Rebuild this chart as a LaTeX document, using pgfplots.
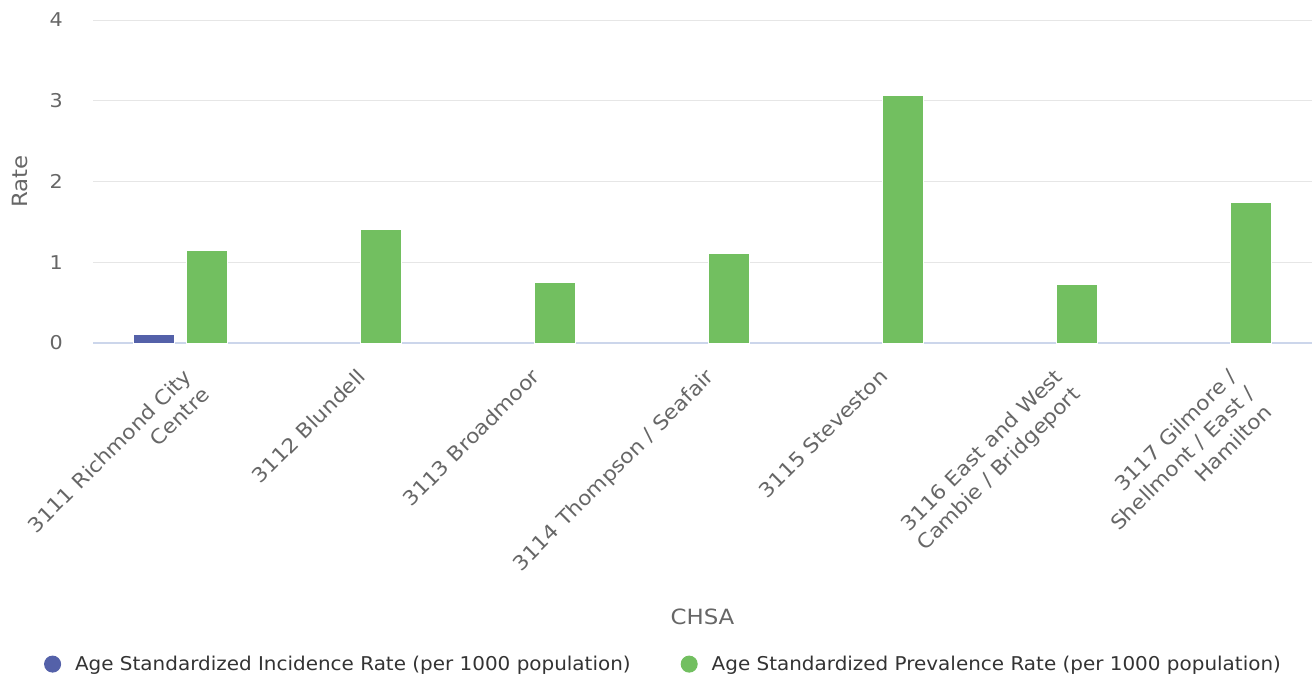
\documentclass[border=0pt]{standalone}
\usepackage{fontspec}
\setmainfont{DejaVu Sans}
\newfontfamily\wfont[FakeStretch=1.09]{DejaVu Sans}
\newfontfamily\lfont[FakeStretch=1.05]{DejaVu Sans}
\usepackage{pgfplots}
\pgfplotsset{compat=1.18}
\definecolor{incc}{HTML}{5461A9}
\definecolor{prevc}{HTML}{72BF60}
\definecolor{gridc}{HTML}{E6E6E6}
\definecolor{axisc}{HTML}{CCD6EB}
\definecolor{labc}{HTML}{666666}
\definecolor{legc}{HTML}{333333}
\begin{document}
\begin{tikzpicture}
\begin{axis}[
  scale only axis, width=1219pt, height=323pt,
  xmin=-0.5, xmax=6.5, ymin=0, ymax=4,
  xtick={0,...,6}, ytick={0,1,2,3,4},
  xticklabels={{3111 Richmond City\\Centre},{3112 Blundell},{3113 Broadmoor},{3114 Thompson / Seafair},{3115 Steveston},{3116 East and West\\Cambie / Bridgeport},{3117 Gilmore /\\Shellmont / East /\\Hamilton}},
  axis x line*=bottom, axis y line*=left,
  x axis line style={color=axisc, line width=1.2pt},
  y axis line style={draw=none},
  major tick length=0pt,
  ymajorgrids, grid style={color=gridc, line width=1pt},
  /pgf/number format/assume math mode=true,
  yticklabel style={color=labc, font=\wfont\fontsize{19}{23}\selectfont, anchor=east, inner sep=0pt, xshift=-30pt},
  xticklabel style={color=labc, font=\wfont\fontsize{20}{25}\selectfont, inner sep=0pt, align=right, anchor=north east, xshift=2pt, yshift=-24pt, rotate=45},
  xlabel={CHSA}, ylabel={Rate},
  every axis x label/.style={at={(axis description cs:0.5,-0.848)}, anchor=center},
  every axis y label/.style={at={(axis description cs:-0.06,0.5)}, anchor=center, rotate=90},
  label style={color=labc, font=\wfont\fontsize{21}{25}\selectfont},
  legend columns=2,
  legend style={at={(axis description cs:0.468,-0.994)}, anchor=center, draw=none, fill=none,
    font=\lfont\fontsize{19}{23}\selectfont, text=legc,
    /tikz/every even column/.append style={column sep=48pt}},
]
\addplot[ybar, bar width=41pt, bar shift=-26.5pt, fill=incc, draw=white, line width=1pt,
  legend image code/.code={\fill[incc] (0pt,0pt) circle (8pt); \path (20pt,0pt);}]
  coordinates {(0,0.10)};
\addlegendentry{Age Standardized Incidence Rate (per 1000 population)}
\addplot[ybar, bar width=41pt, bar shift=26.5pt, fill=prevc, draw=white, line width=1pt,
  legend image code/.code={\fill[prevc] (0pt,0pt) circle (8pt); \path (20pt,0pt);}]
  coordinates {(0,1.15) (1,1.41) (2,0.75) (3,1.11) (4,3.06) (5,0.73) (6,1.74)};
\addlegendentry{Age Standardized Prevalence Rate (per 1000 population)}
\end{axis}
\pgfresetboundingbox
\path[use as bounding box] ([shift={(-93pt,-334pt)}]current axis.south west) rectangle ([shift={(2pt,20pt)}]current axis.north east);
\end{tikzpicture}
\end{document}
